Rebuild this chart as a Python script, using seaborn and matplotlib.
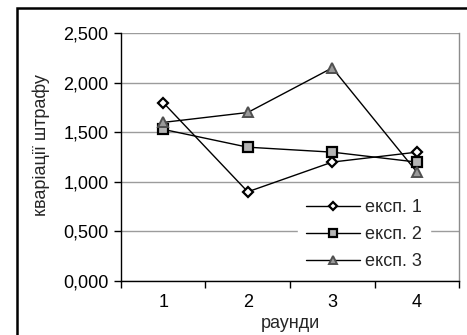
import matplotlib
matplotlib.use("Agg")
import matplotlib.pyplot as plt
import matplotlib.patches as mpatches
from matplotlib.ticker import FuncFormatter, FixedLocator
import seaborn as sns
import pandas as pd

rounds = [1, 2, 3, 4]
series_names = ["експ. 1", "експ. 2", "експ. 3"]
exp1 = [1.80, 0.90, 1.20, 1.30]
exp2 = [1.53, 1.35, 1.30, 1.20]
exp3 = [1.60, 1.70, 2.15, 1.10]
y_ticks = [0.0, 0.5, 1.0, 1.5, 2.0, 2.5]

sns.set_theme(style="white")
plt.rcParams["font.family"] = ["Liberation Sans", "DejaVu Sans"]
plt.rcParams["font.size"] = 13

df = pd.DataFrame({
    "round": rounds * 3,
    "value": exp1 + exp2 + exp3,
    "series": [series_names[0]] * 4 + [series_names[1]] * 4 + [series_names[2]] * 4,
})

fig = plt.figure(figsize=(4.67, 3.35), dpi=100)
ax = fig.add_axes([0.259, 0.161, 0.724, 0.740])

styles = {
    series_names[0]: dict(marker="D", markersize=5, markerfacecolor="white",
                          markeredgecolor="black", markeredgewidth=1.6),
    series_names[1]: dict(marker="s", markersize=7, markerfacecolor="#b4b4b4",
                          markeredgecolor="black", markeredgewidth=1.6),
    series_names[2]: dict(marker="^", markersize=7.5, markerfacecolor="#9a9a9a",
                          markeredgecolor="#505050", markeredgewidth=1.4),
}

for name in series_names:
    sub = df[df["series"] == name]
    sns.lineplot(data=sub, x="round", y="value", ax=ax, color="black",
                 linewidth=1.0, label=name, zorder=3, **styles[name])

ax.set_xlim(0.5, 4.5)
ax.set_ylim(0, 2.5)
ax.yaxis.set_major_locator(FixedLocator(y_ticks))
ax.yaxis.set_major_formatter(FuncFormatter(lambda v, p: f"{v:.3f}".replace(".", ",")))
ax.set_xticks(rounds)
ax.set_xticks([0.5, 1.5, 2.5, 3.5, 4.5], minor=True)
ax.tick_params(axis="x", which="major", length=0, pad=9, labelsize=13, colors="black")
ax.tick_params(axis="x", which="minor", length=5, width=1, direction="out", color="black", bottom=True)
ax.tick_params(axis="y", which="major", length=5, width=1, direction="out", left=True,
               pad=4, labelsize=13, colors="black")

ax.grid(axis="y", color="#9c9c9c", linewidth=1.0, zorder=0)
ax.set_axisbelow(True)

for side in ["left", "bottom"]:
    ax.spines[side].set_color("black")
    ax.spines[side].set_linewidth(1.0)
ax.spines["right"].set_color("#8c8c8c")
ax.spines["right"].set_linewidth(1.0)
ax.spines["top"].set_visible(False)

ax.set_xlabel("раунди", fontsize=13, labelpad=3)
ax.set_ylabel("кваріації штрафу", fontsize=13)
ax.yaxis.set_label_coords(-0.21, 0.55)

leg = ax.legend(loc="lower right", bbox_to_anchor=(0.942, -0.025), frameon=True,
                fancybox=False, edgecolor="white", facecolor="white", framealpha=1,
                handlelength=3.0, handletextpad=0.3, labelspacing=0.55,
                borderpad=0.45, markerscale=0.75, fontsize=13)
leg.set_zorder(5)

# frame around the whole chart
fig.patches.append(mpatches.Rectangle((0.037, -0.1), 1.1, 1.075, transform=fig.transFigure,
                                      fill=False, edgecolor="black", linewidth=1.8))

fig.savefig("out.png", dpi=100)
